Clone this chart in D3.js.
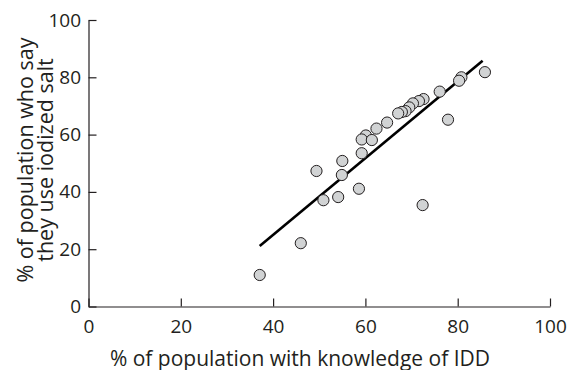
<!DOCTYPE html>
<html lang="en">
<head>
    <meta charset="UTF-8">
    <title>IDD knowledge vs iodized salt use</title>
    <script src="https://d3js.org/d3.v7.min.js"></script>
    <style>
        body { margin: 0; background: #fff; }
        text { font-family: "Open Sans", sans-serif; fill: #231f20; }
    </style>
</head>
<body>
    <div id="my_dataviz"></div>

    <script>
        // data (x = % with knowledge of IDD, y = % using iodized salt)
        var knowledge = [85.9, 80.8, 80.3, 76.1, 77.9, 72.6, 71.6, 70.3, 69.5, 68.7, 67.9, 67.1, 64.7,
                         62.4, 60.1, 59.2, 61.4, 59.2, 55.0, 49.4, 54.9, 58.6, 54.1, 50.9, 72.4, 46.0, 37.1];
        var saltUse   = [81.8, 80.0, 78.8, 75.0, 65.2, 72.4, 71.7, 70.9, 69.5, 68.2, 67.9, 67.4, 64.2,
                         62.1, 59.7, 58.3, 58.1, 53.5, 50.8, 47.3, 45.9, 41.1, 38.2, 37.1, 35.4, 22.1, 11.0];
        // fitted line end points
        var fitX = [37.1, 85.4];
        var fitY = [21.1, 85.8];
        var ticks = [0, 20, 40, 60, 80, 100];

        var W = 571, H = 370;
        var svg = d3.select("#my_dataviz")
            .append("svg")
                .attr("width", W)
                .attr("height", H);

        var x = d3.scaleLinear().domain([0, 100]).range([88.5, 550]);
        var y = d3.scaleLinear().domain([0, 100]).range([306.5, 20]);

        // X axis, ticks pointing inward
        var gx = svg.append("g")
            .attr("transform", "translate(0," + y(0) + ")")
            .call(d3.axisBottom(x).tickValues(ticks).tickSizeInner(-8).tickSizeOuter(0).tickPadding(13));
        // Y axis
        var gy = svg.append("g")
            .attr("transform", "translate(" + x(0) + ",0)")
            .call(d3.axisLeft(y).tickValues(ticks).tickSizeInner(-8).tickSizeOuter(0).tickPadding(7.5));

        [gx, gy].forEach(function(g) {
            g.select(".domain").attr("stroke", "#231f20").attr("stroke-width", 1.2);
            g.selectAll(".tick line").attr("stroke", "#231f20").attr("stroke-width", 1.2);
            g.selectAll(".tick text")
                .style("font-family", "'Open Sans', sans-serif")
                .style("font-size", "19px")
                .attr("fill", "#231f20");
        });

        // regression line
        svg.append("line")
            .attr("x1", x(fitX[0])).attr("y1", y(fitY[0]))
            .attr("x2", x(fitX[1])).attr("y2", y(fitY[1]))
            .attr("stroke", "#000")
            .attr("stroke-width", 2.6);

        // dots
        svg.append("g")
            .selectAll("circle")
            .data(knowledge)
            .enter()
            .append("circle")
                .attr("cx", function(d) { return x(d); })
                .attr("cy", function(d, i) { return y(saltUse[i]); })
                .attr("r", 5.6)
                .attr("fill", "#d1d3d4")
                .attr("stroke", "#231f20")
                .attr("stroke-width", 1);

        // axis titles
        svg.append("text")
            .attr("x", 300)
            .attr("y", 365.5)
            .attr("text-anchor", "middle")
            .style("font-size", "21px")
            .text("% of population with knowledge of IDD");

        var ylab = svg.append("text")
            .attr("transform", "translate(0,160) rotate(-90)")
            .attr("text-anchor", "middle")
            .style("font-size", "21.5px");
        ylab.append("tspan").attr("x", 0).attr("y", 32.5).text("% of population who say");
        ylab.append("tspan").attr("x", 0).attr("y", 53).text("they use iodized salt");
    </script>
</body>
</html>
